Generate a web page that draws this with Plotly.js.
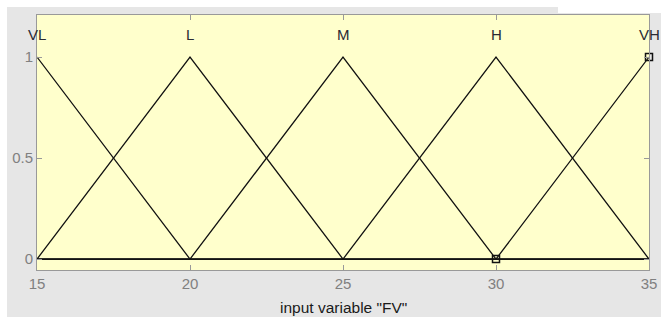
<!DOCTYPE html>
<html>
<head>
<meta charset="utf-8">
<script src="https://cdn.plot.ly/plotly-3.0.1.min.js"></script>
<style>
html,body{margin:0;padding:0;background:#fff;}
#chart{width:661px;height:317px;}
</style>
</head>
<body>
<div id="chart"></div>
<script>
// Membership function names and their vertices
var mfNames = ['VL', 'L', 'M', 'H', 'VH'];
var mfPeaks = [15, 20, 25, 30, 35];
var vlX = [15, 20, 35];         var vlY = [1, 0, 0];
var lX  = [15, 20, 25, 35];     var lY  = [0, 1, 0, 0];
var mX  = [15, 20, 25, 30, 35]; var mY  = [0, 0, 1, 0, 0];
var hX  = [15, 25, 30, 35];     var hY  = [0, 0, 1, 0];
var vhX = [15, 30, 35];         var vhY = [0, 0, 1];
var markX = [30, 35];
var markY = [0, 1];
var xTicks = [15, 20, 25, 30, 35];
var yTicks = [0, 0.5, 1];
var yTickText = ['0', '0.5', '1'];
var xTitle = 'input variable "FV"';

var mfX = [vlX, lX, mX, hX, vhX];
var mfY = [vlY, lY, mY, hY, vhY];

var traces = [];
for (var i = 0; i < mfX.length; i++) {
  traces.push({
    x: mfX[i], y: mfY[i], type: 'scatter', mode: 'lines',
    line: {color: '#111', width: 1.3}, hoverinfo: 'skip', showlegend: false,
    cliponaxis: false
  });
}
traces.push({
  x: markX, y: markY, type: 'scatter', mode: 'markers',
  marker: {symbol: 'square-open', size: 7, color: '#111', line: {width: 1.5, color: '#111'}},
  showlegend: false, cliponaxis: false
});

var annotations = mfNames.map(function (n, i) {
  return {
    x: mfPeaks[i], y: 1.11, xref: 'x', yref: 'y', text: n, showarrow: false,
    font: {family: 'Liberation Sans, Arial, sans-serif', size: 15, color: '#2a2a33'},
    xanchor: 'center', yanchor: 'middle'
  };
});
annotations.push({
  x: 0.5, y: (270 - 307) / 255, xref: 'paper', yref: 'paper', text: xTitle, showarrow: false,
  font: {family: 'Liberation Sans, Arial, sans-serif', size: 15.5, color: '#1a1a1a'},
  xanchor: 'center', yanchor: 'middle'
});

var shapes = [
  {type: 'rect', xref: 'paper', yref: 'paper', x0: -0.07, x1: (7 - 37) / 612, y0: -0.2, y1: 1.1, fillcolor: '#ffffff', line: {width: 0}, layer: 'below'},
  {type: 'rect', xref: 'paper', yref: 'paper', x0: -0.07, x1: 1.05, y0: (270 - 7) / 255, y1: 1.1, fillcolor: '#ffffff', line: {width: 0}, layer: 'below'},
  {type: 'rect', xref: 'paper', yref: 'paper', x0: (558 - 37) / 612, x1: 1.05, y0: (270 - 13) / 255, y1: 1.1, fillcolor: '#ffffff', line: {width: 0}, layer: 'below'}
];

var layout = {
  width: 661, height: 317,
  margin: {l: 37, r: 12, t: 15, b: 47, pad: 0},
  paper_bgcolor: '#e6e6e6',
  plot_bgcolor: '#ffffcc',
  font: {family: 'Liberation Sans, Arial, sans-serif', size: 15, color: '#808080'},
  showlegend: false,
  xaxis: {
    range: [15, 35], tickvals: xTicks, ticks: 'inside', ticklen: 5, tickcolor: '#999',
    showline: true, linecolor: '#999', linewidth: 1, mirror: 'ticks',
    showgrid: false, zeroline: false, tickfont: {size: 15, color: '#808080'},
    fixedrange: true
  },
  yaxis: {
    range: [-0.054, 1.208], tickvals: yTicks, ticktext: yTickText, ticks: 'inside', ticklen: 5,
    tickcolor: '#999', showline: true, linecolor: '#999', linewidth: 1, mirror: 'ticks',
    showgrid: false, zeroline: false, tickfont: {size: 15, color: '#808080'},
    fixedrange: true
  },
  annotations: annotations,
  shapes: shapes
};

Plotly.newPlot('chart', traces, layout, {displayModeBar: false, staticPlot: true});
</script>
</body>
</html>
